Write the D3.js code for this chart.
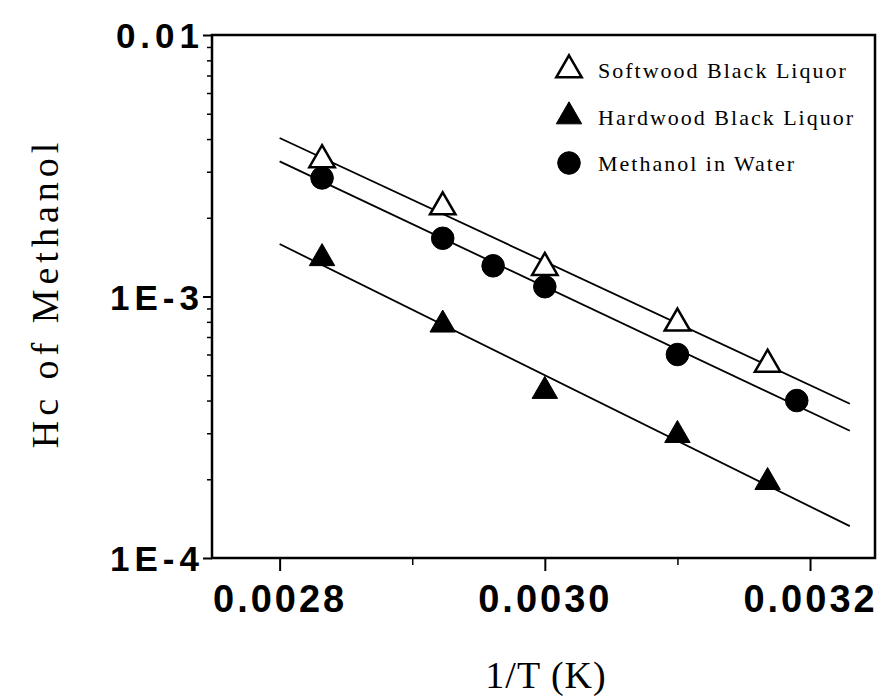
<!DOCTYPE html>
<html>
<head>
<meta charset="utf-8">
<script src="https://cdn.jsdelivr.net/npm/d3@7/dist/d3.min.js"></script>
<style>
  body { margin: 0; background: #fff; }
  text { fill: #000; }
</style>
</head>
<body>
<svg id="chart" width="881" height="699"></svg>
<script>
// values (1/T in 1/K, Hc dimensionless)
const softX = [0.002832, 0.002923, 0.003000, 0.003100, 0.003168];
const softY = [3.33e-3, 2.20e-3, 1.29e-3, 7.9e-4, 5.5e-4];
const hardX = [0.002832, 0.002923, 0.003000, 0.003100, 0.003168];
const hardY = [1.40e-3, 7.8e-4, 4.35e-4, 2.95e-4, 1.95e-4];
const waterX = [0.002832, 0.002923, 0.002961, 0.003000, 0.003100, 0.003190];
const waterY = [2.84e-3, 1.67e-3, 1.31e-3, 1.09e-3, 6.0e-4, 4.0e-4];

const seriesNames = ["Softwood Black Liquor", "Hardwood Black Liquor", "Methanol in Water"];
const xMajor = [0.0028, 0.0030, 0.0032];
const xMinor = [0.0029, 0.0031];
const yMajor = [1e-4, 1e-3, 1e-2];
const yMajorLabels = ["1E-4", "1E-3", "0.01"];
const fitRange = [0.0028, 0.00323];

const svg = d3.select("#chart");
const margin = { left: 212, right: 6, top: 35, bottom: 141 };
const W = 881, H = 699;
const x = d3.scaleLinear().domain([0.002749, 0.003249]).range([margin.left, W - margin.right]);
const y = d3.scaleLog().domain([1e-4, 1e-2]).range([H - margin.bottom, margin.top]);

// minor log ticks 2..9 in each decade
let yMinor = [];
[1e-4, 1e-3].forEach(d => {
    for (let k = 2; k <= 9; k++) yMinor.push(d * k);
});

const tickFont = "'Liberation Sans', Arial, sans-serif";
const serifFont = "'Liberation Serif', 'Times New Roman', serif";

// x axis
const xAxisG = svg.append("g").attr("transform", `translate(0, ${y.range()[0]})`);
xAxisG.call(d3.axisBottom(x).tickValues(xMajor).tickSize(13).tickFormat(d3.format(".4f")))
    .call(g => g.select(".domain").remove());
xAxisG.selectAll("line").attr("stroke", "#000").attr("stroke-width", 2);
xAxisG.selectAll("text")
    .attr("dy", 0)
    .attr("y", 54)
    .attr("dx", "0px")
    .style("font-family", tickFont)
    .style("font-weight", "bold")
    .style("font-size", "38px")
    .style("letter-spacing", "3px");
svg.append("g").attr("transform", `translate(0, ${y.range()[0]})`)
    .call(d3.axisBottom(x).tickValues(xMinor).tickSize(7).tickFormat(""))
    .call(g => g.select(".domain").remove())
    .selectAll("line").attr("stroke", "#000").attr("stroke-width", 1.5);

// y axis
const yAxisG = svg.append("g").attr("transform", `translate(${margin.left}, 0)`);
yAxisG.call(d3.axisLeft(y).tickValues(yMajor).tickSize(9).tickFormat((d, i) => yMajorLabels[i]))
    .call(g => g.select(".domain").remove());
yAxisG.selectAll("line").attr("stroke", "#000").attr("stroke-width", 2);
yAxisG.selectAll("text")
    .attr("x", -8)
    .attr("dy", "0.36em")
    .style("font-family", tickFont)
    .style("font-weight", "bold")
    .style("font-size", "35px")
    .style("letter-spacing", "5px");
svg.append("g").attr("transform", `translate(${margin.left}, 0)`)
    .call(d3.axisLeft(y).tickValues(yMinor).tickSize(5).tickFormat(""))
    .call(g => g.select(".domain").remove())
    .selectAll("line").attr("stroke", "#000").attr("stroke-width", 1.5);

// frame
svg.append("rect")
    .attr("x", margin.left)
    .attr("y", margin.top)
    .attr("width", W - margin.right - margin.left)
    .attr("height", y.range()[0] - margin.top)
    .attr("fill", "none")
    .attr("stroke", "#000")
    .attr("stroke-width", 2.5);

// least squares fit in log space
function fit(xs, ys) {
    const ly = ys.map(v => Math.log10(v));
    const mx = d3.mean(xs), my = d3.mean(ly);
    let num = 0, den = 0;
    xs.forEach((v, i) => { num += (v - mx) * (ly[i] - my); den += (v - mx) * (v - mx); });
    const b = num / den, a = my - b * mx;
    return fitRange.map(v => [v, Math.pow(10, a + b * v)]);
}

const series = [
    { xs: softX, ys: softY, sym: d3.symbolTriangle, fill: "#fff" },
    { xs: hardX, ys: hardY, sym: d3.symbolTriangle, fill: "#000" },
    { xs: waterX, ys: waterY, sym: d3.symbolCircle, fill: "#000" }
];

const line = d3.line().x(d => x(d[0])).y(d => y(d[1]));

series.forEach(s => {
    svg.append("path")
        .attr("d", line(fit(s.xs, s.ys)))
        .attr("fill", "none")
        .attr("stroke", "#000")
        .attr("stroke-width", 1.8);
});

function symbolPath(s) {
    const size = s.sym === d3.symbolCircle ? 400 : 280;
    return d3.symbol().type(s.sym).size(size)();
}

series.forEach(s => {
    svg.append("g")
        .selectAll("path")
        .data(s.xs.map((v, i) => [v, s.ys[i]]))
        .enter()
        .append("path")
        .attr("transform", d => `translate(${x(d[0])}, ${y(d[1])})`)
        .attr("d", symbolPath(s))
        .attr("fill", s.fill)
        .attr("stroke", "#000")
        .attr("stroke-width", s.fill === "#fff" ? 2.5 : 1);
});

// legend
const legend = svg.append("g").attr("transform", "translate(569, 70)");
legend.selectAll("path")
    .data(series)
    .enter()
    .append("path")
    .attr("transform", (d, i) => `translate(0, ${i * 46.5})`)
    .attr("d", d => symbolPath(d))
    .attr("fill", d => d.fill)
    .attr("stroke", "#000")
    .attr("stroke-width", d => d.fill === "#fff" ? 2.5 : 1);
legend.selectAll("text")
    .data(seriesNames)
    .enter()
    .append("text")
    .text(d => d)
    .attr("x", 29)
    .attr("y", (d, i) => i * 46.5 + 8)
    .style("font-family", serifFont)
    .style("font-size", "22px")
    .style("letter-spacing", "2px");

// axis titles
svg.append("text")
    .text("1/T (K)")
    .attr("x", 546)
    .attr("y", 688)
    .attr("text-anchor", "middle")
    .style("font-family", serifFont)
    .style("font-size", "38px")
    .style("letter-spacing", "1px");
svg.append("text")
    .text("Hc of Methanol")
    .attr("transform", "translate(58, 293) rotate(-90)")
    .attr("text-anchor", "middle")
    .style("font-family", serifFont)
    .style("font-size", "38px")
    .style("letter-spacing", "5px");
</script>
</body>
</html>
